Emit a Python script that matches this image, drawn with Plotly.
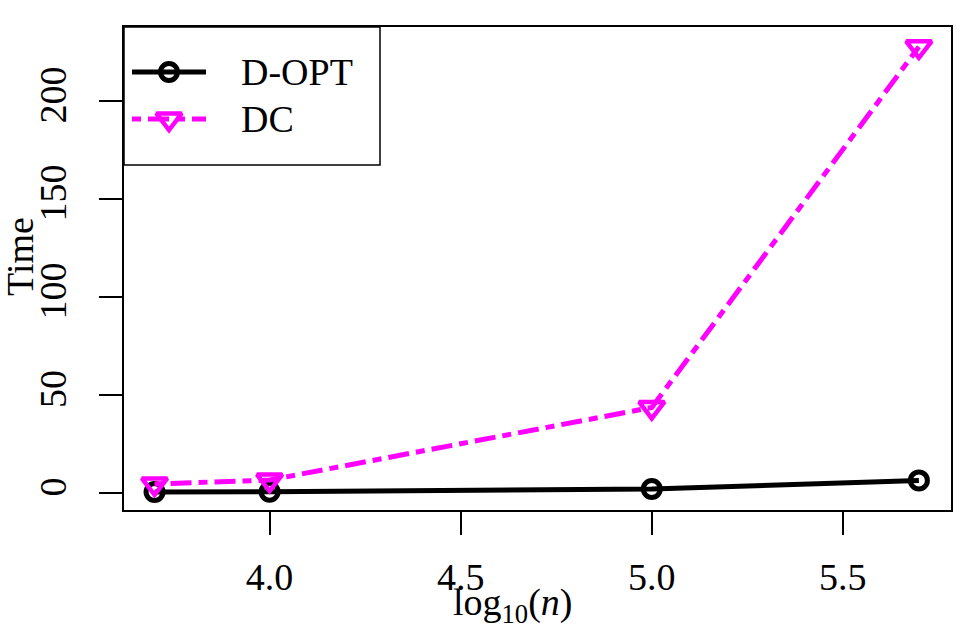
import numpy as np
import plotly.graph_objects as go

# problem sizes and timings
n_values = [5000, 10000, 100000, 500000]
dopt_time = [0.35, 0.5, 1.9, 6.3]
dc_time = [4.5, 6.5, 43.5, 227.5]
x_ticks = [4.0, 4.5, 5.0, 5.5]
y_ticks = [0, 50, 100, 150, 200]
series_names = ["D-OPT", "DC"]

log_n = np.log10(n_values)

FONT = "Liberation Serif"
FS = 38
MAGENTA = "#FF00FF"
DC_DASH = "9px,7px,21px,7px"

W, H = 969, 630
L, R, T, B = 124, 18, 27, 120
PW, PH = W - L - R, H - T - B

fig = go.Figure()
fig.add_trace(go.Scatter(x=log_n, y=dopt_time, mode="lines+markers", name=series_names[0],
                         line=dict(color="black", width=5),
                         marker=dict(symbol="circle-open", size=17, color="black",
                                     line=dict(width=5, color="black")),
                         showlegend=False))
fig.add_trace(go.Scatter(x=log_n, y=dc_time, mode="lines+markers", name=series_names[1],
                         line=dict(color=MAGENTA, width=5, dash=DC_DASH),
                         marker=dict(symbol="triangle-down-open", size=22, color=MAGENTA,
                                     line=dict(width=4.5, color=MAGENTA)),
                         showlegend=False))

# hand-drawn legend (pixel coords inside the plot area)
leg_rows = [PH - 45, PH - 92]
fig.add_trace(go.Scatter(x=[8, 45, 82], y=[leg_rows[0]] * 3, xaxis="x2", yaxis="y2",
                         mode="lines", line=dict(color="black", width=5),
                         showlegend=False, hoverinfo="skip"))
fig.add_trace(go.Scatter(x=[45], y=[leg_rows[0]], xaxis="x2", yaxis="y2", mode="markers",
                         marker=dict(symbol="circle-open", size=17, color="black",
                                     line=dict(width=5, color="black")),
                         showlegend=False, hoverinfo="skip"))
fig.add_trace(go.Scatter(x=[8, 82], y=[leg_rows[1]] * 2, xaxis="x2", yaxis="y2",
                         mode="lines", line=dict(color=MAGENTA, width=5, dash=DC_DASH),
                         showlegend=False, hoverinfo="skip"))
fig.add_trace(go.Scatter(x=[45], y=[leg_rows[1]], xaxis="x2", yaxis="y2", mode="markers",
                         marker=dict(symbol="triangle-down-open", size=22, color=MAGENTA,
                                     line=dict(width=4.5, color=MAGENTA)),
                         showlegend=False, hoverinfo="skip"))

annotations = []
for name, row in zip(series_names, leg_rows):
    annotations.append(dict(x=115, y=row, xref="x2", yref="y2", text=name, showarrow=False,
                            xanchor="left", yanchor="middle", font=dict(family=FONT, size=FS, color="black")))
annotations.append(dict(x=(512 - L) / PW, y=(H - B - 605) / PH, xref="paper", yref="paper",
                        text="log<sub>10</sub>(<i>n</i>)", showarrow=False,
                        xanchor="center", yanchor="middle", font=dict(family=FONT, size=FS, color="black")))
annotations.append(dict(x=(20 - L) / PW, y=(H - B - 257) / PH, xref="paper", yref="paper",
                        text="Time", textangle=-90, showarrow=False,
                        xanchor="center", yanchor="middle", font=dict(family=FONT, size=FS, color="black")))

fig.update_layout(
    width=W, height=H,
    margin=dict(l=L, r=R, t=T, b=B),
    paper_bgcolor="white", plot_bgcolor="white",
    font=dict(family=FONT, size=FS, color="black"),
    annotations=annotations,
    shapes=[dict(type="rect", xref="paper", yref="paper", x0=0, x1=(380 - L) / PW,
                 y0=(H - B - 165) / PH, y1=1, line=dict(color="black", width=1.5),
                 fillcolor="white", layer="below")],
    xaxis=dict(range=[3.619, 5.783], tickvals=x_ticks, ticktext=[f"{v:.1f}" for v in x_ticks],
               ticks="outside", ticklen=23, tickwidth=1.5, tickcolor="black",
               showline=True, linecolor="black", linewidth=1.5, mirror=True,
               showgrid=False, zeroline=False, ticklabelstandoff=10),
    yaxis=dict(range=[-8.8, 237.6], tickvals=y_ticks, tickangle=-90,
               ticks="outside", ticklen=23, tickwidth=1.5, tickcolor="black",
               showline=True, linecolor="black", linewidth=1.5, mirror=True,
               showgrid=False, zeroline=False, ticklabelstandoff=18),
    xaxis2=dict(range=[0, PW], overlaying="x", visible=False, fixedrange=True),
    yaxis2=dict(range=[0, PH], overlaying="y", visible=False, fixedrange=True),
)

fig.write_html("out.html", config={"displayModeBar": False},
               post_script="document.body.style.margin='0px';")
